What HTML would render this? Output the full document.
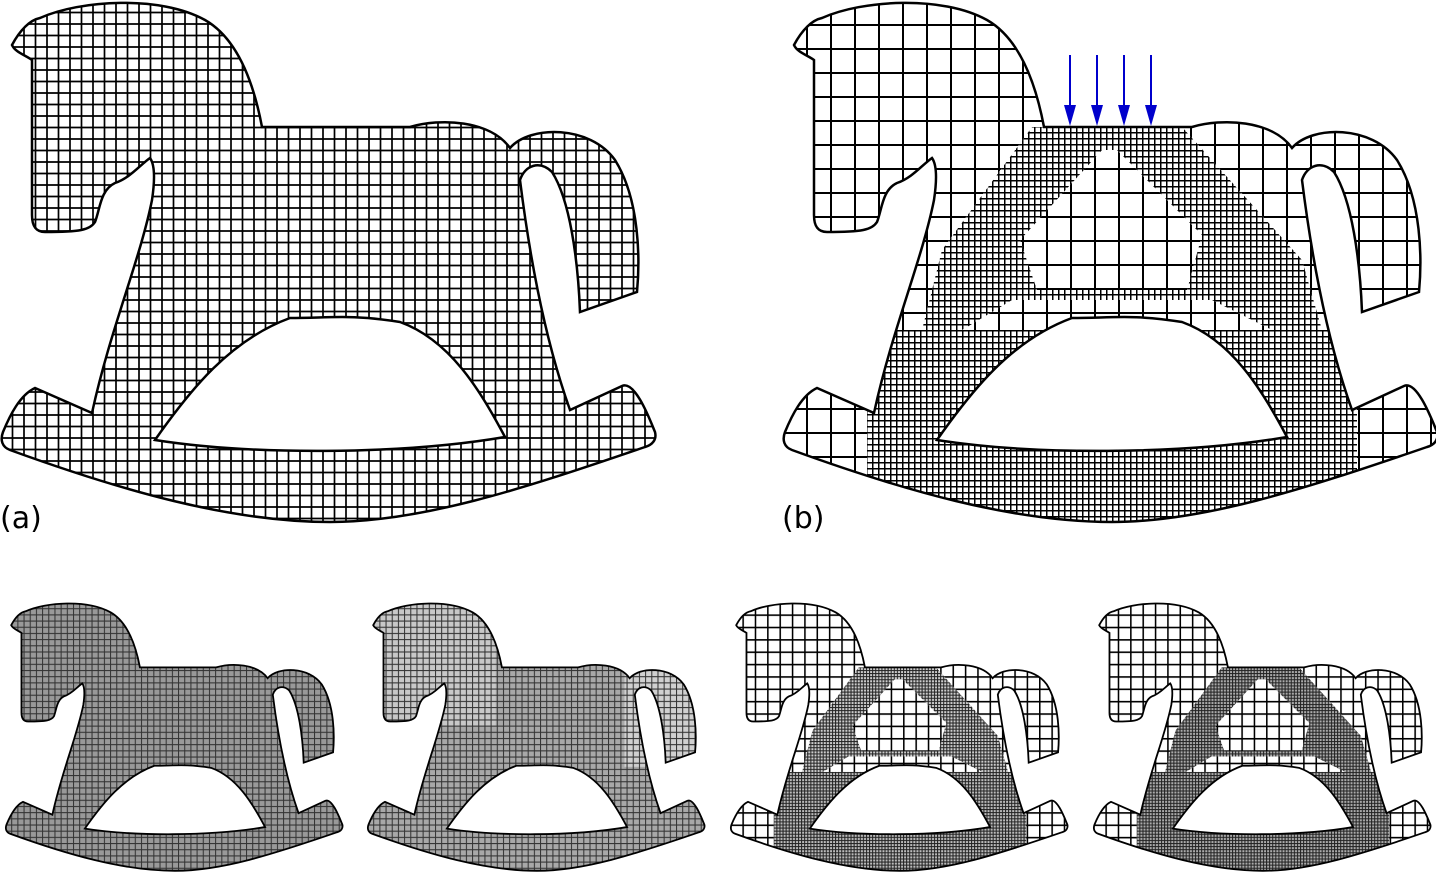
<!DOCTYPE html>
<html><head><meta charset="utf-8"><style>
html,body{margin:0;padding:0;background:#fff;width:1436px;height:878px;overflow:hidden}
svg{display:block}
text{font-family:"DejaVu Sans","Liberation Sans",sans-serif}
</style></head><body>
<svg width="1436" height="878" viewBox="0 0 1436 878">
<defs>
<path id="outline" fill-rule="evenodd" clip-rule="evenodd" d="M12,45 C20,30 30,20 40,18 C80,0 160,-5 205,20 C240,40 255,90 262,127 L410,127 C440,118 490,120 510,148 C530,125 590,125 615,160 C640,200 640,260 637,292 L580,312 C578,260 570,200 552,172 C540,160 525,165 520,180 C530,260 545,340 570,410 L622,386 C635,380 650,420 655,432 C657,440 652,445 645,447 C520,490 420,522 330,522 C230,522 120,490 10,450 C2,447 0,440 3,432 C10,415 20,395 35,388 L92,413 C110,330 140,260 152,200 C155,180 155,165 150,158 C140,165 130,178 115,183 C100,190 100,210 95,222 C90,230 80,232 45,232 C35,232 32,225 32,215 L32,60 C25,55 15,52 12,45 Z M155,440 C190,390 230,340 290,318 C330,318 350,314 400,322 C450,340 480,390 505,437 C400,455 250,455 155,440 Z"/>
<clipPath id="hclip"><use href="#outline" clip-rule="evenodd"/></clipPath>
<pattern id="g12" patternUnits="userSpaceOnUse" width="11.5" height="11.5"><path d="M0,1H11.5M1,0V11.5" stroke="#000" stroke-width="1.7" fill="none"/></pattern>
<pattern id="g24" patternUnits="userSpaceOnUse" width="24" height="24"><path d="M0,1H24M1,0V24" stroke="#000" stroke-width="2" fill="none"/></pattern>
<pattern id="g6" patternUnits="userSpaceOnUse" width="6" height="6"><path d="M0,0.75H6M0.75,0V6" stroke="#000" stroke-width="1.5" fill="none"/></pattern>
<pattern id="s24" patternUnits="userSpaceOnUse" width="24" height="24"><path d="M0,1.5H24M1.5,0V24" stroke="#000" stroke-width="3" fill="none"/></pattern>
<pattern id="s6" patternUnits="userSpaceOnUse" width="6" height="6"><path d="M0,1H6M1,0V6" stroke="#222" stroke-width="2" fill="none"/></pattern>
<pattern id="s12" patternUnits="userSpaceOnUse" width="12" height="12"><path d="M0,1H12M1,0V12" stroke="#333" stroke-width="2" fill="none"/></pattern>
<path id="band" fill-rule="evenodd" d="M250,127 L400,127 L520,260 L540,330 L490,330 L430,300 L230,300 L180,330 L140,330 L160,250 Z M320,150 L335,150 L420,235 L405,290 L255,290 L238,240 Z"/>
</defs>

<g>
<g clip-path="url(#hclip)"><rect x="0" y="0" width="660" height="525" fill="url(#g12)"/></g>
<use href="#outline" fill="none" stroke="#000" stroke-width="2.5"/>
</g>
<text x="0" y="528" font-size="30">(a)</text>

<g transform="translate(782,0)">
<g clip-path="url(#hclip)">
<rect x="0" y="0" width="660" height="525" fill="url(#g24)"/>
<use href="#band" fill="#fff"/><use href="#band" fill="url(#g6)"/>
<rect x="85" y="330" width="490" height="195" fill="#fff"/>
<rect x="85" y="330" width="490" height="195" fill="url(#g6)"/>
</g>
<use href="#outline" fill="none" stroke="#000" stroke-width="2.5"/>
<g stroke="#0000cc" stroke-width="2" fill="#0000cc">
<line x1="288" y1="55" x2="288" y2="118"/><path d="M282,105 L288,126 L294,105 Z" stroke="none"/>
<line x1="315" y1="55" x2="315" y2="118"/><path d="M309,105 L315,126 L321,105 Z" stroke="none"/>
<line x1="342" y1="55" x2="342" y2="118"/><path d="M336,105 L342,126 L348,105 Z" stroke="none"/>
<line x1="369" y1="55" x2="369" y2="118"/><path d="M363,105 L369,126 L375,105 Z" stroke="none"/>
</g>
</g>
<text x="782" y="528" font-size="30">(b)</text>

<g transform="translate(5,602) scale(0.515)">
<g clip-path="url(#hclip)"><rect x="0" y="0" width="660" height="525" fill="#999"/><rect x="0" y="0" width="660" height="525" fill="url(#s12)"/></g>
<use href="#outline" fill="none" stroke="#000" stroke-width="3.5"/>
</g>
<g transform="translate(367,602) scale(0.515)">
<g clip-path="url(#hclip)"><rect x="0" y="0" width="660" height="525" fill="#a8a8a8"/>
<rect x="500" y="120" width="160" height="200" fill="#d0d0d0"/><rect x="0" y="0" width="250" height="240" fill="#c8c8c8"/>
<rect x="0" y="0" width="660" height="525" fill="url(#s12)"/></g>
<use href="#outline" fill="none" stroke="#000" stroke-width="3.5"/>
</g>
<g transform="translate(730,602) scale(0.515)">
<g clip-path="url(#hclip)"><rect x="0" y="0" width="660" height="525" fill="url(#s24)"/>
<use href="#band" fill="#ccc"/><use href="#band" fill="url(#s6)"/>
<rect x="85" y="330" width="490" height="195" fill="#bbb"/><rect x="85" y="330" width="490" height="195" fill="url(#s6)"/></g>
<use href="#outline" fill="none" stroke="#000" stroke-width="3.5"/>
</g>
<g transform="translate(1093,602) scale(0.515)">
<g clip-path="url(#hclip)"><rect x="0" y="0" width="660" height="525" fill="url(#s24)"/>
<use href="#band" fill="#aaa"/><use href="#band" fill="url(#s6)"/>
<rect x="85" y="330" width="490" height="195" fill="#aaa"/><rect x="85" y="330" width="490" height="195" fill="url(#s6)"/></g>
<use href="#outline" fill="none" stroke="#000" stroke-width="3.5"/>
</g>
</svg>
</body></html>
